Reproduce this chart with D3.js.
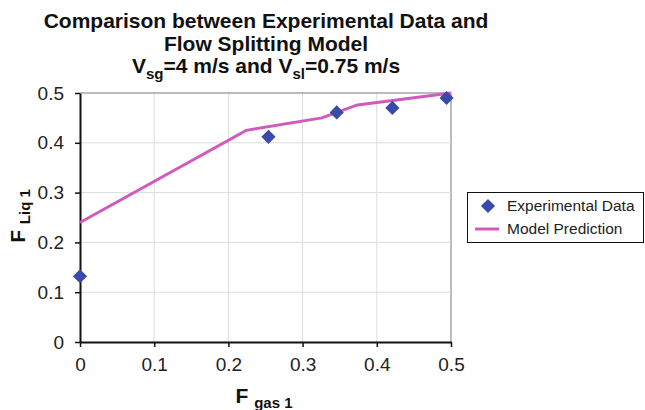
<!DOCTYPE html>
<html>
<head>
<meta charset="utf-8">
<script src="https://cdn.jsdelivr.net/npm/d3@7"></script>
<style>
  html, body { margin: 0; padding: 0; background: #fff; }
  svg { display: block; font-family: "Liberation Sans", Arial, sans-serif; }
</style>
</head>
<body>
<div id="chart"></div>
<script>
// Experimental points (F gas 1, F liq 1)
const expX = [0, 0.254, 0.346, 0.421, 0.494];
const expY = [0.132, 0.412, 0.461, 0.470, 0.490];

// Model prediction curve
const modelX = [0, 0.224, 0.326, 0.374, 0.5];
const modelY = [0.240, 0.425, 0.450, 0.476, 0.500];

const xTicks = [0, 0.1, 0.2, 0.3, 0.4, 0.5];
const yTicks = [0, 0.1, 0.2, 0.3, 0.4, 0.5];

const width = 645, height = 410;
const plot = { left: 80, right: 451, top: 93, bottom: 342 };

const svg = d3.select("#chart").append("svg")
  .attr("width", width)
  .attr("height", height);

const x = d3.scaleLinear().domain([0, 0.5]).range([plot.left, plot.right]);
const y = d3.scaleLinear().domain([0, 0.5]).range([plot.bottom, plot.top]);

// Gridlines
svg.append("g")
  .selectAll("line.vg")
  .data(xTicks.slice(1))
  .join("line")
  .attr("x1", d => x(d)).attr("x2", d => x(d))
  .attr("y1", plot.top).attr("y2", plot.bottom)
  .attr("stroke", d => d === 0.5 ? "#a6a6a6" : "#dcdcdc")
  .attr("stroke-width", d => d === 0.5 ? 1.5 : 1);

svg.append("g")
  .selectAll("line.hg")
  .data(yTicks.slice(1))
  .join("line")
  .attr("x1", plot.left).attr("x2", plot.right)
  .attr("y1", d => y(d)).attr("y2", d => y(d))
  .attr("stroke", d => d === 0.5 ? "#a6a6a6" : "#dcdcdc")
  .attr("stroke-width", d => d === 0.5 ? 1.5 : 1);

// Axes
const xG = svg.append("g")
  .attr("transform", `translate(0,${plot.bottom})`)
  .call(d3.axisBottom(x).tickValues(xTicks).tickFormat(d3.format("")).tickSize(5).tickPadding(11).tickSizeOuter(0));
const yG = svg.append("g")
  .attr("transform", `translate(${plot.left},0)`)
  .call(d3.axisLeft(y).tickValues(yTicks).tickFormat(d3.format("")).tickSize(5).tickPadding(11).tickSizeOuter(0));

[xG, yG].forEach(g => {
  g.select(".domain").attr("stroke", "#111").attr("stroke-width", 2);
  g.selectAll(".tick line").attr("stroke", "#111").attr("stroke-width", 1.5);
  g.selectAll("text")
    .attr("fill", "#222")
    .style("font-family", '"Liberation Sans", Arial, sans-serif')
    .style("font-size", "19px");
});

// Model line
const line = d3.line().x(d => x(d[0])).y(d => y(d[1]));
svg.append("path")
  .datum(d3.zip(modelX, modelY))
  .attr("d", line)
  .attr("fill", "none")
  .attr("stroke", "#cf5cbd")
  .attr("stroke-width", 3);

// Experimental diamonds
const diamond = d3.symbol().type(d3.symbolSquare).size(100);
svg.append("g")
  .selectAll("path")
  .data(d3.zip(expX, expY))
  .join("path")
  .attr("d", diamond)
  .attr("transform", d => `translate(${x(d[0])},${y(d[1])}) rotate(45)`)
  .attr("fill", "#3a4aa8");

// Title
const title = svg.append("text")
  .attr("text-anchor", "middle")
  .attr("fill", "#111")
  .style("font-weight", "bold")
  .style("font-size", "21px");
title.append("tspan").attr("x", 266).attr("y", 28).text("Comparison between Experimental Data and");
title.append("tspan").attr("x", 266).attr("y", 51).text("Flow Splitting Model");
const t3 = title.append("tspan").attr("x", 266).attr("y", 73);
t3.append("tspan").text("V");
t3.append("tspan").attr("dy", 6).style("font-size", "15px").text("sg");
t3.append("tspan").attr("dy", -6).text("=4 m/s and V");
t3.append("tspan").attr("dy", 6).style("font-size", "15px").text("sl");
t3.append("tspan").attr("dy", -6).text("=0.75 m/s");

// X axis label
const xl = svg.append("text")
  .attr("x", 264).attr("y", 403)
  .attr("text-anchor", "middle")
  .attr("fill", "#111")
  .style("font-weight", "bold")
  .style("font-size", "21px");
xl.append("tspan").text("F ");
xl.append("tspan").attr("dy", 5).style("font-size", "15px").text("gas 1");

// Y axis label
const yl = svg.append("text")
  .attr("transform", "translate(25,216) rotate(-90)")
  .attr("text-anchor", "middle")
  .attr("fill", "#111")
  .style("font-weight", "bold")
  .style("font-size", "21px");
yl.append("tspan").text("F ");
yl.append("tspan").attr("dy", 5).style("font-size", "15px").text("Liq 1");

// Legend
const lg = svg.append("g");
lg.append("rect")
  .attr("x", 467.5).attr("y", 192.5)
  .attr("width", 176).attr("height", 50)
  .attr("fill", "#fff")
  .attr("stroke", "#111")
  .attr("stroke-width", 1);
lg.append("path")
  .attr("d", diamond)
  .attr("transform", "translate(488,206) rotate(45)")
  .attr("fill", "#3a4aa8");
lg.append("line")
  .attr("x1", 475).attr("x2", 499)
  .attr("y1", 229).attr("y2", 229)
  .attr("stroke", "#cf5cbd").attr("stroke-width", 3);
lg.append("text")
  .attr("x", 507).attr("y", 211)
  .attr("fill", "#222").style("font-size", "15.5px")
  .text("Experimental Data");
lg.append("text")
  .attr("x", 507).attr("y", 234)
  .attr("fill", "#222").style("font-size", "15.5px")
  .text("Model Prediction");
</script>
</body>
</html>
